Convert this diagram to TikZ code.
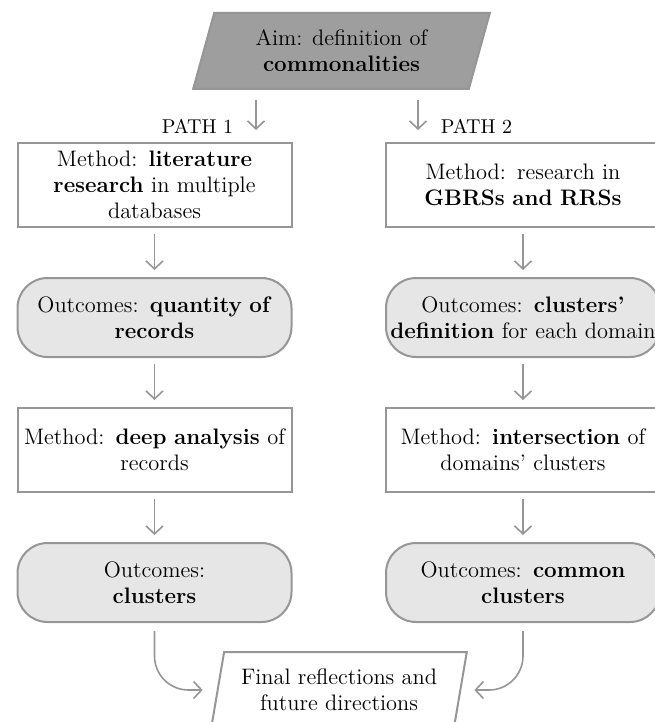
\documentclass[tikz,border=0pt]{standalone}
\usepackage{tikz}
\usetikzlibrary{
  arrows.meta, % for Straight Barb arrow tip
  positioning, % for relative positioning of the boxes
  shapes.geometric % for the trapezium (parallelogram) shapes
}
\definecolor{linegray}{RGB}{150,150,150}
\definecolor{aimgray}{RGB}{158,158,158}
\definecolor{outgray}{RGB}{230,230,230}
\tikzset{
  method/.style={ % style for the method boxes
    rectangle,draw=linegray,line width=1pt, % plain gray rectangle
    text width=133pt,minimum height=42pt,
    align=center,font=\fontsize{11.2}{13}\selectfont,
    inner sep=2pt,
  },
  outcome/.style={ % style for the outcome boxes
    method, % inherit the method style
    rounded corners=15pt,fill=outgray,minimum height=39.5pt,
  },
  slanted/.style={ % style for the aim and the final box
    trapezium,draw=linegray,line width=1pt,
    trapezium stretches=true,
    align=center,font=\fontsize{11.2}{13}\selectfont,
  },
  pathlbl/.style={ % style for the path labels
    font=\fontsize{10}{11}\selectfont,inner sep=0pt,
  },
  conn/.style={ % style for the connections
    -{Straight Barb[length=4pt,width=8.5pt]},
    draw=linegray,line width=0.8pt,
  },
}
\begin{document}
\begin{tikzpicture}
\useasboundingbox (0,0) rectangle (327pt,-361pt);
\node[slanted, fill=aimgray, minimum width=148.5pt, minimum height=38pt,
  trapezium left angle=74.6, trapezium right angle=105.4] (aim) at (170.75pt,-25.5pt)
  {Aim: definition of\\\textbf{commonalities}};
% path 1
\node[method] (m1) at (77.25pt,-92.5pt) {Method: \textbf{literature}\\\textbf{research} in multiple\\databases};
\node[outcome, below=24.5pt of m1] (o1) {Outcomes: \textbf{quantity of}\\\textbf{records}};
\node[method, below=24.5pt of o1] (m2) {Method: \textbf{deep analysis} of\\records};
\node[outcome, below=24.5pt of m2] (o2) {Outcomes:\\\textbf{clusters}};
% path 2
\node[method, right=46.25pt of m1] (m1r) {Method: research in\\\textbf{GBRSs and RRSs}};
\node[outcome, right=46.25pt of o1] (o1r) {Outcomes: \textbf{clusters'}\\\textbf{definition} for each domain};
\node[method, right=46.25pt of m2] (m2r) {Method: \textbf{intersection} of\\domains' clusters};
\node[outcome, right=46.25pt of o2] (o2r) {Outcomes: \textbf{common}\\\textbf{clusters}};
\node[slanted, minimum width=128pt, minimum height=38pt,
  trapezium left angle=78, trapezium right angle=102] (final) at (169.5pt,-345pt)
  {Final reflections and\\future directions};
\draw[conn, shorten <=5pt, shorten >=6pt] ([xshift=-42.75pt]aim.south) -- ([xshift=-42.75pt]aim.south |- m1.north)
  node[pathlbl, pos=0.7, left=11pt] {PATH 1};
\draw[conn, shorten <=5pt, shorten >=6pt] ([xshift=38.25pt]aim.south) -- ([xshift=38.25pt]aim.south |- m1r.north)
  node[pathlbl, pos=0.7, right=11pt] {PATH 2};
\draw[conn, shorten <=3pt, shorten >=3.5pt] (m1) -- (o1);
\draw[conn, shorten <=3pt, shorten >=3.5pt] (o1) -- (m2);
\draw[conn, shorten <=3pt, shorten >=3.5pt] (m2) -- (o2);
\draw[conn, shorten <=3pt, shorten >=3.5pt] (m1r) -- (o1r);
\draw[conn, shorten <=3pt, shorten >=3.5pt] (o1r) -- (m2r);
\draw[conn, shorten <=3pt, shorten >=3.5pt] (m2r) -- (o2r);
\draw[conn, rounded corners=17pt, shorten <=4pt, shorten >=7pt] (o2.south) |- (final.west);
\draw[conn, rounded corners=17pt, shorten <=4pt, shorten >=6.5pt] (o2r.south) |- (final.east);
\end{tikzpicture}
\end{document}
